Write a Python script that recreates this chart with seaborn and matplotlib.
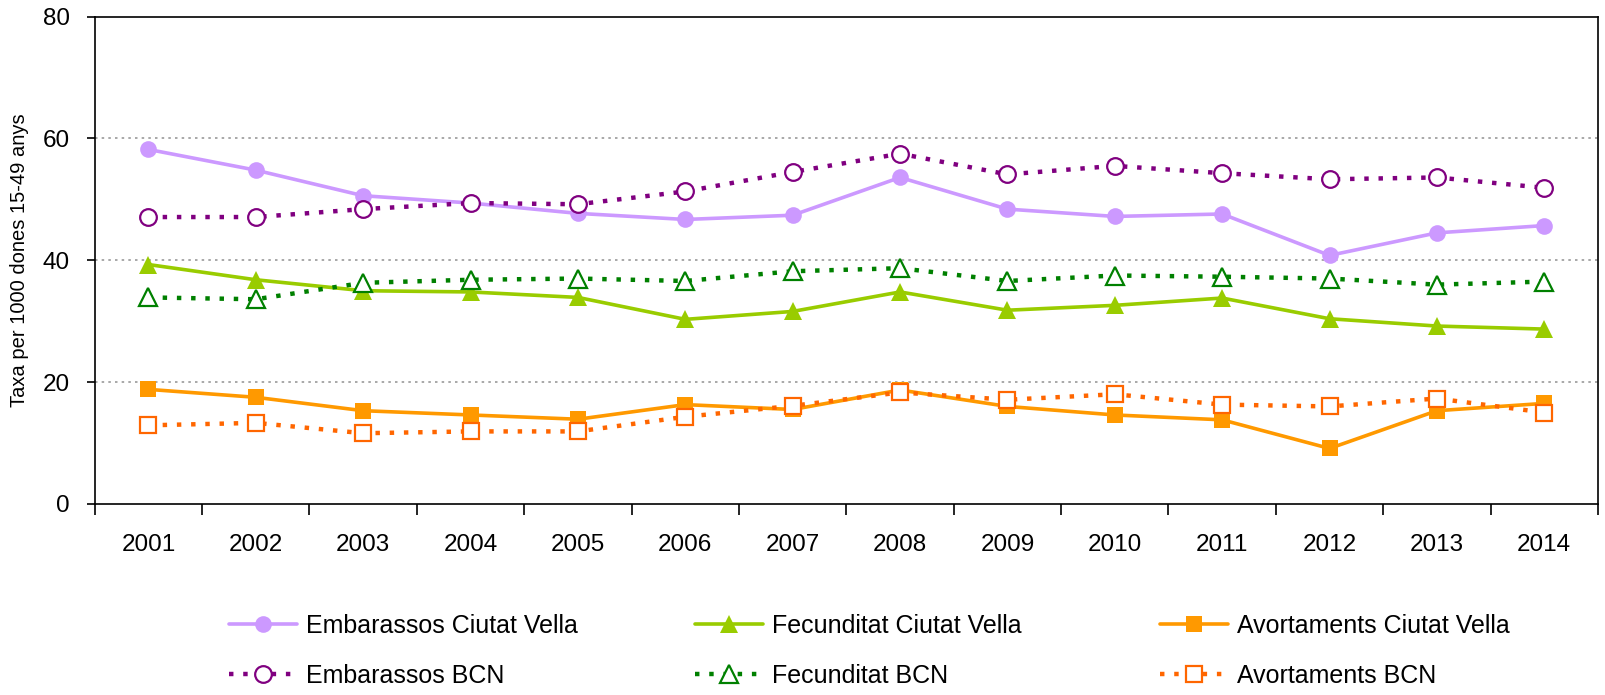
import matplotlib
matplotlib.use("Agg")
import matplotlib.pyplot as plt
import seaborn as sns
import pandas as pd
from matplotlib.lines import Line2D

years = ["2001", "2002", "2003", "2004", "2005", "2006", "2007",
         "2008", "2009", "2010", "2011", "2012", "2013", "2014"]

emb_cv = [58.2, 54.8, 50.6, 49.4, 47.7, 46.7, 47.4, 53.6, 48.4, 47.2, 47.6, 40.8, 44.5, 45.7]
emb_bcn = [47.1, 47.1, 48.4, 49.4, 49.2, 51.3, 54.5, 57.5, 54.1, 55.5, 54.3, 53.3, 53.6, 51.9]
fec_cv = [39.3, 36.8, 35.0, 34.8, 33.9, 30.3, 31.6, 34.8, 31.8, 32.6, 33.8, 30.4, 29.2, 28.7]
fec_bcn = [33.9, 33.6, 36.3, 36.8, 37.0, 36.6, 38.2, 38.7, 36.6, 37.5, 37.3, 37.0, 36.0, 36.5]
avo_cv = [18.8, 17.5, 15.3, 14.6, 13.9, 16.3, 15.5, 18.7, 16.0, 14.6, 13.8, 9.1, 15.3, 16.5]
avo_bcn = [12.9, 13.3, 11.6, 11.9, 11.9, 14.3, 16.1, 18.3, 17.1, 18.0, 16.3, 16.0, 17.3, 15.0]

series_names = ["Embarassos Ciutat Vella", "Fecunditat Ciutat Vella", "Avortaments Ciutat Vella",
                "Embarassos BCN", "Fecunditat BCN", "Avortaments BCN"]
series_vals = [emb_cv, fec_cv, avo_cv, emb_bcn, fec_bcn, avo_bcn]
y_ticks = [0, 20, 40, 60, 80]
y_label = "Taxa per 1000 dones 15-49 anys"

styles = {
    "Embarassos Ciutat Vella": dict(color="#CC99FF", marker="o", filled=True, dotted=False),
    "Fecunditat Ciutat Vella": dict(color="#99CC00", marker="^", filled=True, dotted=False),
    "Avortaments Ciutat Vella": dict(color="#FF9900", marker="s", filled=True, dotted=False),
    "Embarassos BCN": dict(color="#800080", marker="o", filled=False, dotted=True),
    "Fecunditat BCN": dict(color="#008000", marker="^", filled=False, dotted=True),
    "Avortaments BCN": dict(color="#FF6600", marker="s", filled=False, dotted=True),
}

sns.set_theme(style="white")
plt.rcParams["font.family"] = ["Liberation Sans", "DejaVu Sans"]
plt.rcParams["text.color"] = "black"
plt.rcParams["axes.labelcolor"] = "black"
plt.rcParams["xtick.color"] = "black"
plt.rcParams["ytick.color"] = "black"

fig = plt.figure(figsize=(16.06, 6.95), dpi=100)
ax = fig.add_axes([0.059, 0.275, 0.936, 0.701])

xs = list(range(len(years)))
handles = {}
for name in series_names:
    vals = series_vals[series_names.index(name)]
    st = styles[name]
    df = pd.DataFrame({"x": xs, "y": vals})
    ms = 12 if st["marker"] != "^" else 13
    if st["dotted"]:
        ls = (0, (1, 2.2))
        lw = 3.2
    else:
        ls = "-"
        lw = 2.6
    kw = dict(color=st["color"], linewidth=lw, linestyle=ls, marker=st["marker"], markersize=ms,
              markerfacecolor=st["color"] if st["filled"] else "white",
              markeredgecolor=st["color"], markeredgewidth=1.6 if not st["filled"] else 0,
              dash_capstyle="butt")
    sns.lineplot(data=df, x="x", y="y", ax=ax, legend=False, **kw)
    handles[name] = Line2D([], [], **kw)

ax.set_xlim(-0.5, len(years) - 0.5)
ax.set_ylim(0, 80)
ax.set_yticks(y_ticks)
ax.set_yticklabels([str(t) for t in y_ticks], fontsize=17.5)
ax.set_xticks(xs)
ax.set_xticklabels(years, fontsize=17.5)
ax.set_xticks([i - 0.5 for i in range(len(years) + 1)], minor=True)
ax.tick_params(axis="x", which="major", length=0, pad=22)
ax.tick_params(axis="x", which="minor", length=8, width=1.2, color="black", direction="out", bottom=True)
ax.tick_params(axis="y", which="major", length=6, width=1.2, color="black", direction="out", left=True, pad=12)
ax.set_xlabel("")
ax.set_ylabel(y_label, fontsize=14.5, labelpad=10)

for t in [20, 40, 60]:
    ax.axhline(t, color="#999999", linestyle=(0, (1.5, 2.5)), linewidth=1.2, zorder=0)

for side in ["left", "bottom", "top", "right"]:
    ax.spines[side].set_visible(True)
    ax.spines[side].set_color("black")
    ax.spines[side].set_linewidth(1.2)

columns = [["Embarassos Ciutat Vella", "Embarassos BCN"],
           ["Fecunditat Ciutat Vella", "Fecunditat BCN"],
           ["Avortaments Ciutat Vella", "Avortaments BCN"]]
col_x = [0.1426, 0.4328, 0.7223]
for cx, names in zip(col_x, columns):
    leg = fig.legend([handles[n] for n in names], names, loc="center left",
                     bbox_to_anchor=(cx, 0.0633), frameon=False, fontsize=18,
                     handlelength=2.7, handletextpad=0.36, labelspacing=1.05,
                     borderpad=0, borderaxespad=0)

fig.savefig("out.png", dpi=100)
